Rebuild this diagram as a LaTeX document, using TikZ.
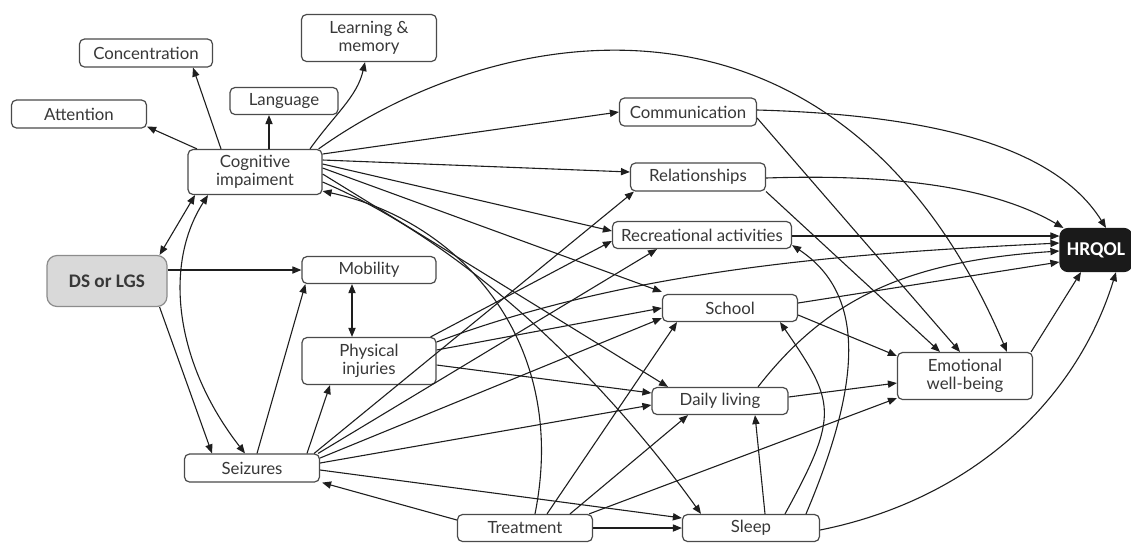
\documentclass[tikz,border=0pt]{standalone}
\usepackage{fontspec}
\setmainfont{Lato}
\newfontfamily\calfont{Carlito}
\usetikzlibrary{arrows.meta,calc}
\definecolor{linec}{HTML}{1E1E1E}
\definecolor{boxc}{HTML}{4A4A4A}
\definecolor{txtc}{HTML}{383838}
\definecolor{dsfill}{HTML}{D9D9D9}
\definecolor{dsdraw}{HTML}{8C8C8C}
\definecolor{hqfill}{HTML}{1A1A1A}
\begin{document}
\begin{tikzpicture}[x=0.5pt,y=-0.5pt,
  box/.style={draw=boxc, line width=0.6pt, rounded corners=2.5pt, fill=white,
    font=\fontsize{8.4}{9}\selectfont, text=txtc, inner sep=0pt, align=center},
  arr/.style={-{Triangle[length=4.5pt,width=3.6pt]}, line width=0.55pt, draw=linec},
  barr/.style={{Triangle[length=4.5pt,width=3.6pt]}-{Triangle[length=4.5pt,width=3.6pt]}, line width=0.55pt, draw=linec}]
\useasboundingbox (0,0) rectangle (1131,543);
% nodes
\node[box, minimum width=67.5pt, minimum height=14pt] (att) at (79,114) {Attention};
\node[box, minimum width=66.5pt, minimum height=14pt] (conc) at (146,53) {Concentration};
\node[box, minimum width=54pt, minimum height=13.5pt] (lang) at (284,101) {Language};
\node[box, minimum width=67.5pt, minimum height=23.5pt] (learn) at (369,38) {Learning \&\\ memory};
\node[box, minimum width=67pt, minimum height=22.5pt] (ci) at (255,172) {Cognitive\\ impaiment};
\node[box, minimum width=68.5pt, minimum height=14pt] (comm) at (688,112) {Communication};
\node[box, minimum width=67.5pt, minimum height=14pt] (rel) at (698,177) {Relationships};
\node[box, minimum width=89.5pt, minimum height=13.5pt] (rec) at (702,235) {Recreational activities};
\node[box, draw=hqfill, fill=hqfill, text=white, font=\calfont\bfseries\fontsize{9.8}{11}\selectfont, rounded corners=4pt, minimum width=36pt, minimum height=21.5pt] (hrqol) at (1096,250) {HRQOL};
\node[box, draw=dsdraw, fill=dsfill, text=txtc, font=\calfont\bfseries\fontsize{9.6}{11}\selectfont, rounded corners=5pt, minimum width=60pt, minimum height=25.5pt] (ds) at (107,281) {DS or LGS};
\node[box, minimum width=67pt, minimum height=13.5pt] (mob) at (369,270) {Mobility};
\node[box, minimum width=67pt, minimum height=23.5pt] (pi) at (369,361) {Physical\\ injuries};
\node[box, minimum width=67.5pt, minimum height=13.5pt] (school) at (730,308) {School};
\node[box, minimum width=68pt, minimum height=13.5pt] (dl) at (720,401) {Daily living};
\node[box, minimum width=68.5pt, minimum height=13.5pt] (sleep) at (751,528) {Sleep};
\node[box, minimum width=67.5pt, minimum height=13.5pt] (treat) at (525,528) {Treatment};
\node[box, minimum width=67.5pt, minimum height=14pt] (seiz) at (252,468) {Seizures};
\node[box, minimum width=67.5pt, minimum height=23.5pt] (ewb) at (965,376) {Emotional\\ well-being};
% cognitive impairment
\draw[arr] ([xshift=-29pt]ci.north) -- ([yshift=1pt]att.south east);
\draw[arr] ([xshift=-17pt]ci.north) -- ([xshift=23.5pt]conc.south);
\draw[arr] ([xshift=7pt]ci.north) -- ([xshift=-7.5pt]lang.south);
\draw[arr] ([xshift=27.5pt]ci.north) .. controls +(25,-35) and +(-8,35) .. ([xshift=-2pt]learn.south);
\draw[arr] ([xshift=-2pt]ci.north east) .. controls +(182,-130) and +(-167,-392) .. ([xshift=21pt]ewb.north);
\draw[arr] ([yshift=9pt]ci.east) -- (comm.west);
\draw[arr] ([yshift=6pt]ci.east) -- ([yshift=2.5pt]rel.west);
\draw[arr] ([yshift=4pt]ci.east) -- ([yshift=2pt]rec.west);
\draw[arr] ([yshift=2pt]ci.east) -- ([yshift=1pt]school.north west);
\draw[arr] ([yshift=-1pt]ci.east) -- ([xshift=-26pt]dl.north);
\draw[arr] ([yshift=-5pt]ci.east) .. controls +(150,64) and +(-90,-126) .. ([xshift=-25pt]sleep.north);
\draw[arr] ([xshift=5pt]treat.north) .. controls +(35,-175) and +(135,29) .. ([yshift=2pt]ci.south east);
% DS or LGS, seizures
\draw[barr] ([xshift=-4pt]ds.north east) -- ([xshift=-30pt]ci.south);
\draw[barr] ([xshift=-23.5pt]ci.south) .. controls +(-45,70) and +(-70,-90) .. ([xshift=-3.5pt]seiz.north);
\draw[arr] ([yshift=5.5pt]ds.east) -- (mob.west);
\draw[arr] ([xshift=-4pt]ds.south east) -- ([xshift=-20pt]seiz.north);
\draw[arr] ([xshift=2.5pt]seiz.north) -- ([xshift=2pt]mob.south west);
\draw[arr] ([xshift=27.5pt]seiz.north) -- ([xshift=-19.5pt]pi.south);
\draw[barr] ([xshift=-8.5pt]mob.south) -- ([xshift=-8.5pt]pi.north);
\draw[arr] ([xshift=-3pt]seiz.north east) -- ([xshift=2pt]rel.south west);
\draw[arr] ([xshift=-1pt]seiz.north east) -- ([xshift=-22.5pt]rec.south);
\draw[arr] ([yshift=5pt]seiz.east) -- ([yshift=2pt]school.south west);
\draw[arr] ([yshift=2.5pt]seiz.east) -- ([yshift=-2pt]dl.west);
\draw[arr] ([yshift=-1pt]seiz.east) -- ([yshift=5pt]sleep.west);
% treatment
\draw[arr] ([yshift=4pt]treat.west) -- ([xshift=1pt]seiz.south east);
\draw[arr] (treat.east) -- (sleep.west);
\draw[arr] ([xshift=11pt]treat.north) -- ([xshift=-26.5pt]school.south);
\draw[arr] ([xshift=22.5pt]treat.north) -- ([xshift=-16pt]dl.south);
\draw[arr] ([xshift=-2pt]treat.north east) -- ([yshift=1pt]ewb.south west);
% physical injuries
\draw[arr] ([xshift=-3pt]pi.north east) -- ([yshift=-3pt]rec.west);
\draw[arr] ([yshift=9.5pt]pi.east) .. controls +(200,-75) and +(-200,10) .. ([yshift=3.5pt]hrqol.west);
\draw[arr] ([yshift=5.5pt]pi.east) -- (school.west);
\draw[arr] ([yshift=-2pt]pi.east) -- ([yshift=4pt]dl.west);
% to HRQOL
\draw[arr] ([yshift=-0.5pt]rec.east) -- ([yshift=7pt]hrqol.west);
\draw[arr] ([yshift=2.5pt]school.east) -- ([yshift=-6pt]hrqol.west);
\draw[arr] ([xshift=19pt]dl.north) .. controls +(70,-90) and +(-150,10) .. ([yshift=-0.5pt]hrqol.west);
\draw[arr] ([yshift=1pt]comm.east) .. controls +(180,5) and +(-50,-80) .. ([xshift=5pt]hrqol.north);
\draw[arr] ([yshift=-0.5pt]rel.east) .. controls +(150,-5) and +(-60,-35) .. ([xshift=2pt]hrqol.north west);
% to emotional well-being
\draw[arr] ([yshift=-3pt]comm.east) -- ([xshift=-2.5pt]ewb.north);
\draw[arr] (rel.south east) -- ([xshift=-12.5pt]ewb.north);
\draw[arr] ([yshift=-3.5pt]school.east) -- ([yshift=-2pt]ewb.north west);
\draw[arr] ([yshift=2pt]dl.east) -- ([yshift=-3.5pt]ewb.west);
\draw[arr] ([xshift=-1pt]ewb.north east) -- ([xshift=-7.5pt]hrqol.south);
% sleep
\draw[arr] ([yshift=-1pt]sleep.east) .. controls +(150,-30) and +(-40,130) .. ([xshift=10pt]hrqol.south);
\draw[arr] ([xshift=7pt]sleep.north) -- ([xshift=17.5pt]dl.south);
\draw[arr] ([xshift=17pt]sleep.north) .. controls +(55,-100) and +(55,80) .. ([xshift=25pt]school.south);
\draw[arr] ([xshift=27.5pt]sleep.north) .. controls +(55,-130) and +(75,50) .. ([yshift=2pt]rec.south east);
\end{tikzpicture}
\end{document}
